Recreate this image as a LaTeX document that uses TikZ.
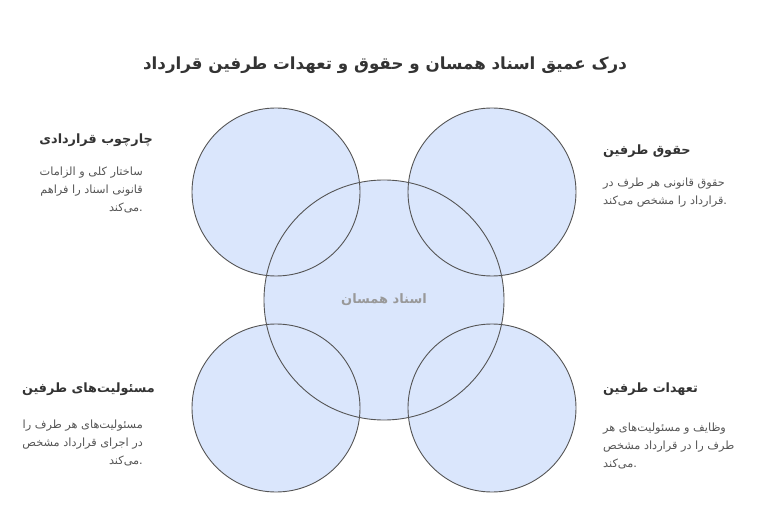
\documentclass[tikz,border=0pt]{standalone}
\usepackage{fontspec}
\newfontfamily\fafont[Script=Arabic]{DejaVu Sans}
\TeXXeTstate=1
\newcommand{\rl}[1]{\beginR #1\endR}
\definecolor{discfill}{HTML}{DAE6FC}
\definecolor{ringgray}{HTML}{555555}
\definecolor{headgray}{HTML}{333333}
\definecolor{bodygray}{HTML}{555555}
\definecolor{labelgray}{HTML}{999999}

\begin{document}
\begin{tikzpicture}[x=1pt,y=-1pt,
    disc/.style={circle, fill=discfill, inner sep=0pt, outer sep=0pt},
    ring/.style={draw=ringgray, line width=0.9pt},
    head/.style={font=\fafont\bfseries\fontsize{12.8}{16}\selectfont, text=headgray, inner sep=0pt},
    body/.style={font=\fafont\fontsize{11.3}{17.8}\selectfont, text=bodygray, inner sep=0pt}]
    \useasboundingbox (0,0) rectangle (780,532);
    \node[font=\fafont\bfseries\fontsize{16.7}{20}\selectfont, text=headgray] (title) at (385,65) {\rl{درک عمیق اسناد همسان و حقوق و تعهدات طرفین قرارداد}};
    \node[disc, minimum size=168pt] (frame) at (276,192) {};
    \node[disc, minimum size=168pt] (rights) at (492,192) {};
    \node[disc, minimum size=168pt] (duties) at (276,408) {};
    \node[disc, minimum size=168pt] (terms) at (492,408) {};
    \node[disc, minimum size=240pt, font=\fafont\bfseries\fontsize{13}{16}\selectfont, text=labelgray] (core) at (384,300) {\rl{اسناد همسان}};
    \foreach \n/\r in {frame/84, rights/84, duties/84, terms/84, core/120}
        \draw[ring] (\n.east) arc[start angle=0, end angle=360, radius=\r pt];
    \node[head, anchor=east] (frameT) at (153,140) {\rl{چارچوب قراردادی}};
    \node[body, anchor=north east, align=right] (frameB) at (143,167) {\rl{ساختار کلی و الزامات}\\\rl{قانونی اسناد را فراهم}\\\rl{می‌کند}.};
    \node[head, anchor=west] (rightsT) at (603,151) {\rl{حقوق طرفین}};
    \node[body, anchor=north west, align=left] (rightsB) at (603,178) {\rl{حقوق قانونی هر طرف در}\\\rl{قرارداد را مشخص می‌کند}.};
    \node[head, anchor=west] (termsT) at (603,389) {\rl{تعهدات طرفین}};
    \node[body, anchor=north west, align=left] (termsB) at (603,423) {\rl{وظایف و مسئولیت‌های هر}\\\rl{طرف را در قرارداد مشخص}\\\rl{می‌کند}.};
    \node[head, anchor=east] (dutiesT) at (155,389) {\rl{مسئولیت‌های طرفین}};
    \node[body, anchor=north east, align=right] (dutiesB) at (143,420) {\rl{مسئولیت‌های هر طرف را}\\\rl{در اجرای قرارداد مشخص}\\\rl{می‌کند}.};
\end{tikzpicture}
\end{document}
